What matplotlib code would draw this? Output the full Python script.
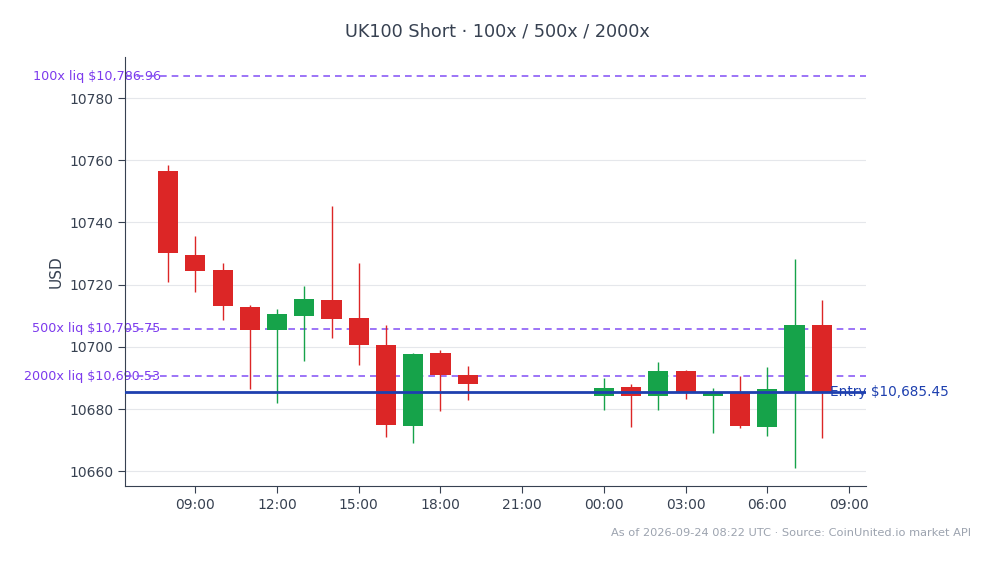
import matplotlib
matplotlib.use("Agg")
import matplotlib.pyplot as plt
import matplotlib.dates as mdates
import pandas as pd

# hourly candles, 2026-09-23 08:00 -> 19:00 and 2026-09-24 00:00 -> 08:00
times = list(pd.date_range("2026-09-23 08:00", periods=12, freq="h")) + \
        list(pd.date_range("2026-09-24 00:00", periods=9, freq="h"))
opens  = [10756.5, 10729.5, 10724.7, 10712.8, 10705.5, 10710.0, 10715.0, 10709.2, 10700.5, 10674.6, 10698.0, 10690.8,
          10684.2, 10687.0, 10684.2, 10692.2, 10684.2, 10685.0, 10674.3, 10685.5, 10707.0]
highs  = [10758.4, 10735.6, 10726.8, 10713.6, 10712.1, 10719.5, 10745.3, 10726.8, 10707.0, 10698.1, 10698.9, 10693.8,
          10689.9, 10688.0, 10695.1, 10692.7, 10686.7, 10690.7, 10693.6, 10728.2, 10715.0]
lows   = [10720.9, 10717.7, 10708.6, 10686.3, 10682.0, 10695.5, 10702.9, 10694.2, 10671.0, 10669.1, 10679.4, 10682.9,
          10679.6, 10674.3, 10679.6, 10683.3, 10672.3, 10673.9, 10671.3, 10661.0, 10670.7]
closes = [10730.2, 10724.4, 10713.2, 10705.5, 10710.5, 10715.3, 10709.0, 10700.6, 10674.9, 10697.6, 10691.0, 10688.1,
          10686.7, 10684.2, 10692.2, 10685.2, 10685.6, 10674.6, 10686.4, 10707.0, 10685.45]

entry = 10685.45
liq_names = ["100x", "500x", "2000x"]
liq_prices = [10786.96, 10705.75, 10690.53]

UP = "#16a34a"
DOWN = "#dc2626"
LIQ = "#8b5cf6"
LIQ_TXT = "#7c3aed"
ENTRY = "#1e40af"
AXC = "#374151"

fig = plt.figure(figsize=(9.94, 5.64), dpi=100)
ax = fig.add_axes([0.1258, 0.138, 0.7452, 0.761])

x = mdates.date2num(times)
w = 0.74 / 24
for xi, o, h, l, c in zip(x, opens, highs, lows, closes):
    col = UP if c >= o else DOWN
    ax.vlines(xi, l, h, color=col, linewidth=1.0, zorder=3)
    ax.bar(xi, abs(c - o), bottom=min(o, c), width=w, color=col, zorder=4)

# liquidation levels, label sits under the dashed line
for name, p in zip(liq_names, liq_prices):
    ax.axhline(p, color=LIQ, linestyle=(0, (4, 3)), linewidth=1.2, zorder=2)
    ax.text(0.048, p, f"{name} liq ${p:,.2f}", transform=ax.get_yaxis_transform(),
            ha="right", va="center", color=LIQ_TXT, fontsize=9.15, zorder=1)

ax.axhline(entry, color=ENTRY, linewidth=2, zorder=5)
ax.text(0.952, entry, f"Entry ${entry:,.2f}", transform=ax.get_yaxis_transform(),
        ha="left", va="center", color=ENTRY, fontsize=9.85, zorder=4.5)

ax.set_ylim(10655.2, 10793.2)
x0 = mdates.date2num(pd.Timestamp("2026-09-23 06:25"))
x1 = mdates.date2num(pd.Timestamp("2026-09-24 09:37"))
ax.set_xlim(x0, x1)
ax.xaxis.set_major_locator(mdates.HourLocator(byhour=range(0, 24, 3)))
ax.xaxis.set_major_formatter(mdates.DateFormatter("%H:%M"))
ax.set_yticks([10660, 10680, 10700, 10720, 10740, 10760, 10780])

ax.grid(axis="y", color="#e5e7eb", linewidth=0.8, zorder=0)
ax.set_axisbelow(True)
for s in ["top", "right"]:
    ax.spines[s].set_visible(False)
for s in ["left", "bottom"]:
    ax.spines[s].set_color(AXC)
ax.tick_params(colors=AXC, labelsize=10, length=5)
ax.set_ylabel("USD", color=AXC, fontsize=11)

fig.suptitle("UK100 Short · 100x / 500x / 2000x", y=0.945, va="center", color=AXC, fontsize=12.7)
fig.text(0.977, 0.055, "As of 2026-09-24 08:22 UTC · Source: CoinUnited.io market API",
         ha="right", va="center", color="#9ca3af", fontsize=8.2)

fig.savefig("out.png", dpi=100)
